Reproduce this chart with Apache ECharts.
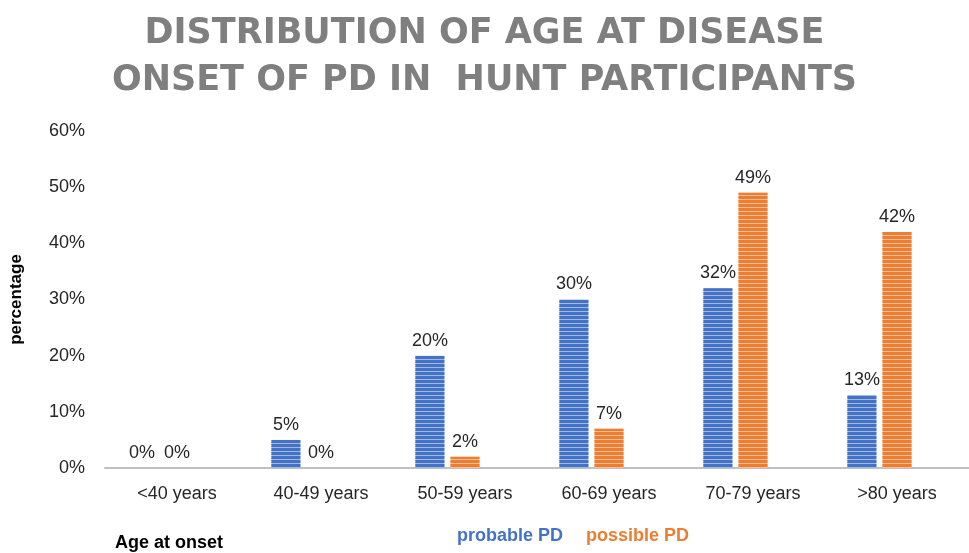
<!DOCTYPE html>
<html style="height: 100%">
<head>
<meta charset="utf-8">
<script src="https://cdn.jsdelivr.net/npm/echarts@6/dist/echarts.min.js"></script>
</head>
<body style="height: 100%; margin: 0; background: #fff">
<div id="container" style="width: 969px; height: 553px"></div>
<script type="text/javascript">
// age groups and percentages
var ageGroups = ['<40 years', '40-49 years', '50-59 years', '60-69 years', '70-79 years', '>80 years'];
var probablePD = [0, 5, 20, 30, 32, 13];
var possiblePD = [0, 0, 2, 7, 49, 42];
var yTicks = [0, 10, 20, 30, 40, 50, 60];

var chart = echarts.init(document.getElementById('container'));
var font = 'Liberation Sans, Arial, sans-serif';

function stripes(color) {
    return {
        color: color,
        symbol: 'rect',
        symbolSize: 1,
        dashArrayX: [1, 0],
        dashArrayY: [3, 1],
        rotation: 0
    };
}

var labelStyle = {
    show: true,
    position: 'top',
    distance: 6,
    formatter: '{c}%',
    fontFamily: font,
    fontSize: 18,
    color: '#262626'
};

var option = {
    animation: false,
    title: [
        {
            text: 'DISTRIBUTION OF AGE AT DISEASE\nONSET OF PD IN  HUNT PARTICIPANTS',
            left: 'center',
            top: 5,
            textStyle: {
                fontFamily: 'DejaVu Sans',
                fontWeight: 'bold',
                fontSize: 35,
                lineHeight: 47,
                color: '#7f7f7f'
            }
        },
        {
            text: 'Age at onset',
            left: 110,
            top: 529,
            textStyle: {fontFamily: font, fontWeight: 'bold', fontSize: 18, color: '#000'}
        }
    ],
    legend: {
        bottom: 3,
        left: 447,
        itemWidth: 0,
        itemHeight: 0,
        itemGap: 18,
        textStyle: {fontFamily: font, fontWeight: 'bold', fontSize: 18},
        data: [
            {name: 'probable PD', icon: 'none', textStyle: {color: '#4472C4'}},
            {name: 'possible PD', icon: 'none', textStyle: {color: '#ED7D31'}}
        ]
    },
    grid: {left: 100, right: 0, top: 131, bottom: 85},
    xAxis: {
        type: 'category',
        data: ageGroups,
        axisLine: {lineStyle: {color: '#bfbfbf', width: 2}},
        axisTick: {show: false},
        axisLabel: {fontFamily: font, fontSize: 18, color: '#262626', margin: 17}
    },
    yAxis: {
        type: 'value',
        min: yTicks[0],
        max: yTicks[yTicks.length - 1],
        interval: 10,
        name: 'percentage',
        nameLocation: 'middle',
        nameRotate: 90,
        nameGap: 80,
        nameTextStyle: {fontFamily: font, fontWeight: 'bold', fontSize: 17, color: '#000'},
        axisLine: {show: false},
        axisTick: {show: false},
        splitLine: {show: false},
        axisLabel: {fontFamily: font, fontSize: 18, color: '#262626', margin: 20, formatter: '{value}%'}
    },
    series: [
        {
            name: 'probable PD',
            type: 'bar',
            data: probablePD,
            barWidth: 29,
            barGap: '21%',
            itemStyle: {color: '#a3b8e3', decal: stripes('#4472C4')},
            label: labelStyle
        },
        {
            name: 'possible PD',
            type: 'bar',
            data: possiblePD,
            barWidth: 29,
            barGap: '21%',
            itemStyle: {color: '#f6bd94', decal: stripes('#ED7D31')},
            label: labelStyle
        },
        {
            // empty third slot, keeps the pair off-centre as in the original
            name: 'spacer',
            type: 'bar',
            data: [],
            barWidth: 29,
            barGap: '21%'
        }
    ]
};

chart.setOption(option);
</script>
</body>
</html>
